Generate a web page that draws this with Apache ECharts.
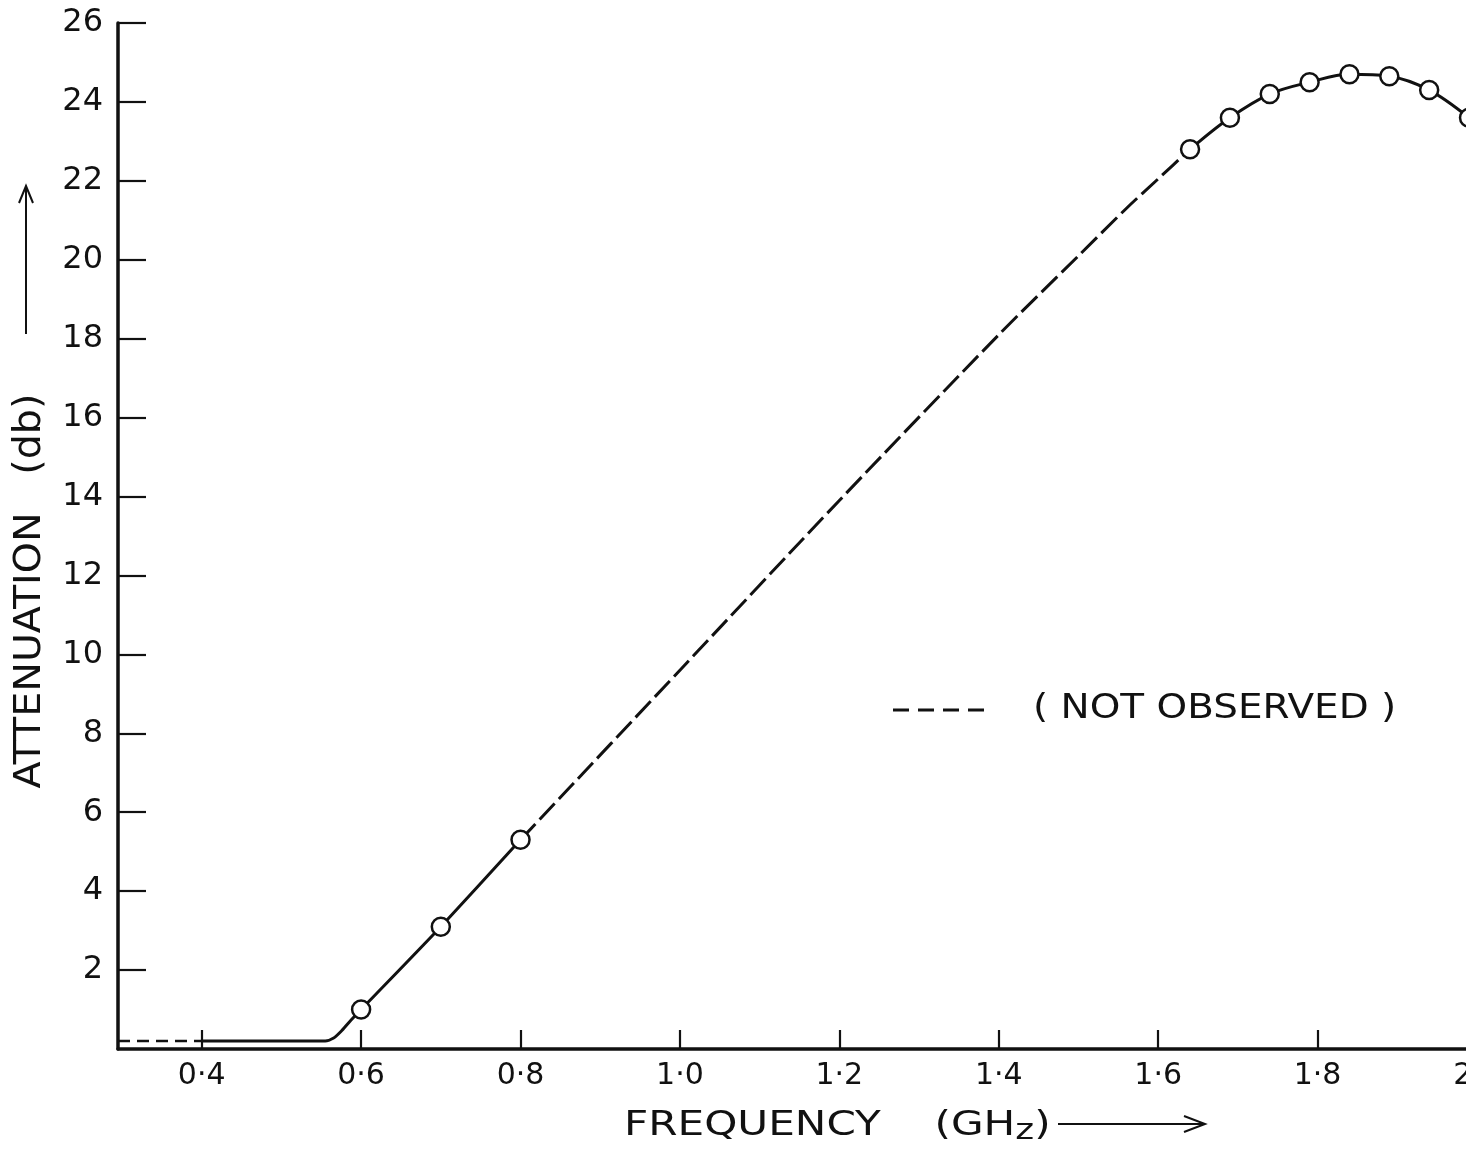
<!DOCTYPE html>
<html>
<head>
<meta charset="utf-8">
<script src="https://cdn.jsdelivr.net/npm/echarts@6/dist/echarts.min.js"></script>
<style>
  html, body { margin: 0; padding: 0; background: #fff; }
  #chart { width: 1482px; height: 1150px; }
</style>
</head>
<body>
<div id="chart"></div>
<script>
// Axis ticks
const freqTicks = [0.4, 0.6, 0.8, 1.0, 1.2, 1.4, 1.6, 1.8, 2.0];
const attenTicks = [2, 4, 6, 8, 10, 12, 14, 16, 18, 20, 22, 24, 26];

// Measured attenuation (open circles)
const measuredFreq = [0.6, 0.7, 0.8, 1.64, 1.69, 1.74, 1.79, 1.84, 1.89, 1.94, 1.99];
const measuredAtten = [1.0, 3.1, 5.3, 22.8, 23.6, 24.2, 24.5, 24.7, 24.65, 24.3, 23.6];

// Curve pieces: [frequency GHz, attenuation dB]
const belowRangeDashed = [[0.295, 0.2], [0.4, 0.2]];
const lowSolid = [[0.4, 0.2], [0.555, 0.2], [0.565, 0.27], [0.575, 0.45], [0.585, 0.68], [0.6, 1.0], [0.7, 3.1], [0.8, 5.3]];
const notObservedDashed = [[0.8, 5.3], [1.0, 9.6], [1.2, 13.9], [1.4, 18.1], [1.5, 20.1], [1.56, 21.3], [1.6, 22.05], [1.64, 22.8]];
const highSolidFreq = measuredFreq.slice(3);
const highSolidAtten = measuredAtten.slice(3);

const FONT = 'DejaVu Sans';
const INK = '#111';

const chart = echarts.init(document.getElementById('chart'), null, { renderer: 'canvas' });

const fmtFreq = v => (Math.round(v * 10) / 10).toFixed(1).replace('.', '·');

const option = {
  backgroundColor: '#fff',
  animation: false,
  grid: { left: 118, right: 5, top: 23, bottom: 101, outerBoundsMode: 'none', containLabel: false },
  xAxis: {
    type: 'value',
    min: 0.295,
    max: 2.0,
    splitLine: { show: false },
    axisLine: { show: true, onZero: false, lineStyle: { color: INK, width: 3.5 } },
    axisTick: { show: true, inside: true, length: 19, customValues: freqTicks, lineStyle: { color: INK, width: 2.2 } },
    axisLabel: {
      customValues: freqTicks,
      formatter: fmtFreq,
      color: INK, fontFamily: FONT, fontSize: 30, margin: 12
    }
  },
  yAxis: {
    type: 'value',
    min: 0,
    max: 26,
    splitLine: { show: false },
    axisLine: { show: true, onZero: false, lineStyle: { color: INK, width: 3.5 } },
    axisTick: { show: true, inside: true, length: 28, customValues: attenTicks, lineStyle: { color: INK, width: 2.2 } },
    axisLabel: {
      customValues: attenTicks,
      color: INK, fontFamily: FONT, fontSize: 32, margin: 15
    }
  },
  series: [
    {
      name: 'below range',
      type: 'line',
      data: belowRangeDashed,
      showSymbol: false,
      lineStyle: { color: INK, width: 2.5, type: [12, 7] },
      z: 2
    },
    {
      name: 'low',
      type: 'line',
      data: lowSolid,
      showSymbol: false,
      smooth: 0.2,
      lineStyle: { color: INK, width: 3 },
      z: 2
    },
    {
      name: 'not observed',
      type: 'line',
      data: notObservedDashed,
      showSymbol: false,
      smooth: 0.3,
      lineStyle: { color: INK, width: 3, type: [22, 6] },
      z: 2
    },
    {
      name: 'high',
      type: 'line',
      data: highSolidFreq.map((f, i) => [f, highSolidAtten[i]]),
      showSymbol: false,
      smooth: 0.35,
      lineStyle: { color: INK, width: 3 },
      z: 2
    },
    {
      name: 'measured',
      type: 'scatter',
      data: measuredFreq.map((f, i) => [f, measuredAtten[i]]),
      symbol: 'circle',
      symbolSize: 18,
      itemStyle: { color: '#fff', borderColor: INK, borderWidth: 2.5, opacity: 1 },
      z: 5
    }
  ],
  graphic: [
    // key for the dashed segment
    {
      type: 'line',
      shape: { x1: 893, y1: 710, x2: 985, y2: 710 },
      style: { stroke: INK, lineWidth: 3, lineDash: [16, 9] }
    },
    {
      type: 'text',
      x: 1033, y: 709, scaleX: 1.18,
      style: { text: '( NOT OBSERVED )', font: '33px "DejaVu Sans"', fill: INK, verticalAlign: 'middle' }
    },
    // x axis title with arrow
    {
      type: 'text',
      x: 624, y: 1126, scaleX: 1.24,
      style: {
        text: '{a|FREQUENCY}{a|    (GH}{s|z}{a|)}',
        verticalAlign: 'middle',
        rich: {
          a: { font: '34px "DejaVu Sans"', fill: INK, color: INK },
          s: { font: '29px "DejaVu Sans"', fill: INK, color: INK, padding: [10, 0, 0, 0] }
        }
      }
    },
    {
      type: 'polyline',
      shape: { points: [[1058, 1124], [1203, 1124]] },
      style: { stroke: INK, lineWidth: 2, fill: null }
    },
    {
      type: 'polyline',
      shape: { points: [[1184, 1116], [1205, 1124], [1184, 1132]] },
      style: { stroke: INK, lineWidth: 2, fill: null }
    },
    // y axis title with arrow
    {
      type: 'text',
      x: 30, y: 591, scaleX: 1.07,
      rotation: Math.PI / 2,
      style: {
        text: 'ATTENUATION   (db)',
        font: '37px "DejaVu Sans"', fill: INK,
        align: 'center', verticalAlign: 'middle'
      }
    },
    {
      type: 'polyline',
      shape: { points: [[26, 334], [26, 188]] },
      style: { stroke: INK, lineWidth: 2, fill: null }
    },
    {
      type: 'polyline',
      shape: { points: [[19, 203], [26, 186], [33, 203]] },
      style: { stroke: INK, lineWidth: 2, fill: null }
    },
    // page edge: the plot runs off the right margin
    {
      type: 'rect',
      shape: { x: 1466, y: 0, width: 16, height: 1150 },
      style: { fill: '#fff' },
      z: 100
    }
  ]
};

chart.setOption(option);
</script>
</body>
</html>
